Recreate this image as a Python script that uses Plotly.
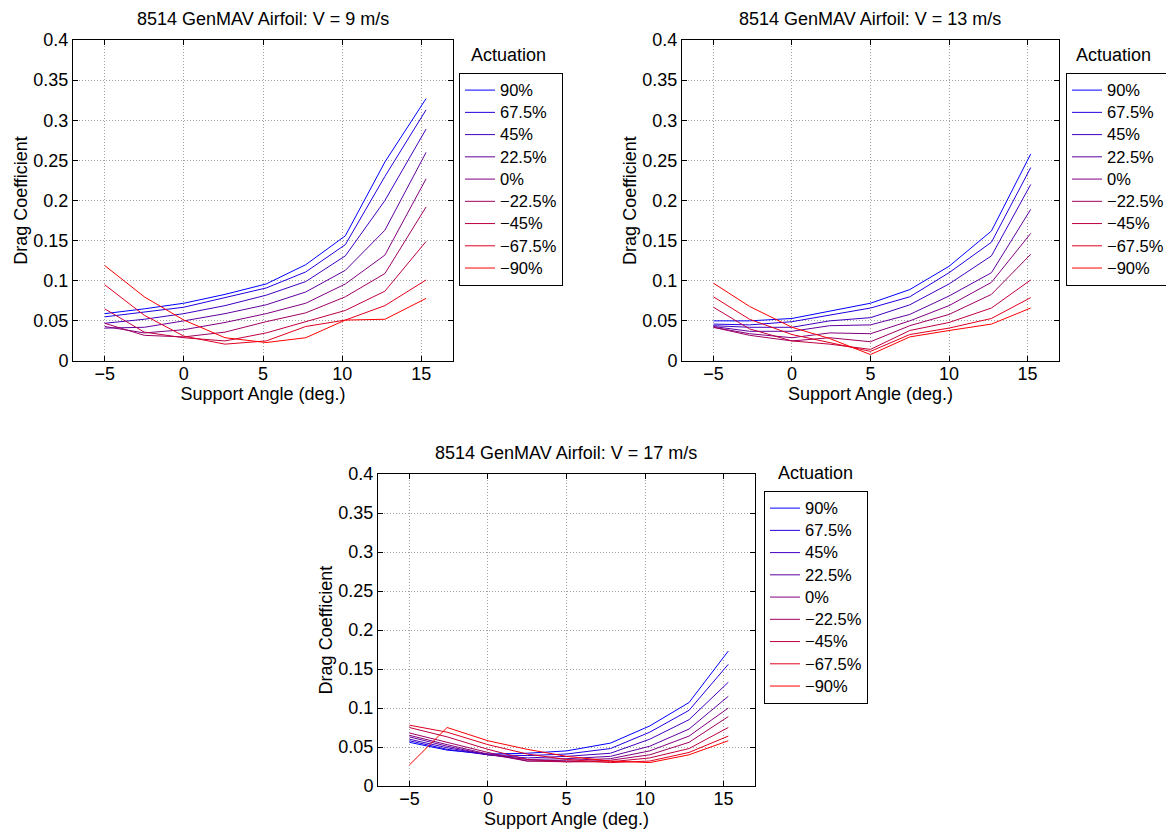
import plotly.graph_objects as go

# ---------------- data ----------------
actuation = ["90%", "67.5%", "45%", "22.5%", "0%", "−22.5%", "−45%", "−67.5%", "−90%"]
line_colors = ["rgb(0,0,255)", "rgb(32,0,223)", "rgb(64,0,191)", "rgb(96,0,159)",
               "rgb(128,0,128)", "rgb(159,0,96)", "rgb(191,0,64)", "rgb(223,0,32)",
               "rgb(255,0,0)"]

angle_9 = [-5, -2.5, 0, 2.6, 5.2, 7.7, 10.2, 12.7, 15.3]
cd_9 = [
    [0.059, 0.065, 0.072, 0.083, 0.096, 0.120, 0.156, 0.248, 0.327],
    [0.055, 0.061, 0.067, 0.079, 0.091, 0.111, 0.145, 0.230, 0.313],
    [0.047, 0.052, 0.059, 0.069, 0.082, 0.099, 0.131, 0.200, 0.289],
    [0.041, 0.042, 0.050, 0.059, 0.070, 0.086, 0.113, 0.163, 0.260],
    [0.043, 0.035, 0.039, 0.048, 0.059, 0.072, 0.096, 0.132, 0.227],
    [0.047, 0.032, 0.030, 0.036, 0.049, 0.060, 0.080, 0.109, 0.192],
    [0.065, 0.036, 0.029, 0.025, 0.035, 0.049, 0.063, 0.087, 0.149],
    [0.095, 0.057, 0.031, 0.021, 0.025, 0.043, 0.051, 0.069, 0.101],
    [0.119, 0.080, 0.051, 0.029, 0.023, 0.029, 0.051, 0.052, 0.078],
]

angle_13 = [-5, -2.7, 0, 2.4, 5, 7.5, 10, 12.7, 15.2]
cd_13 = [
    [0.050, 0.050, 0.053, 0.062, 0.072, 0.089, 0.118, 0.162, 0.258],
    [0.046, 0.045, 0.049, 0.057, 0.066, 0.080, 0.110, 0.148, 0.241],
    [0.044, 0.042, 0.042, 0.050, 0.054, 0.070, 0.096, 0.131, 0.220],
    [0.043, 0.037, 0.037, 0.044, 0.045, 0.058, 0.081, 0.110, 0.189],
    [0.042, 0.034, 0.029, 0.035, 0.034, 0.050, 0.069, 0.098, 0.159],
    [0.042, 0.032, 0.025, 0.029, 0.024, 0.044, 0.058, 0.083, 0.133],
    [0.067, 0.040, 0.025, 0.021, 0.0145, 0.038, 0.048, 0.066, 0.101],
    [0.080, 0.052, 0.033, 0.023, 0.012, 0.033, 0.041, 0.053, 0.079],
    [0.097, 0.068, 0.042, 0.028, 0.008, 0.030, 0.038, 0.046, 0.066],
]

angle_17 = [-5, -2.6, 0, 2.5, 5, 7.8, 10.3, 12.8, 15.3]
cd_17 = [
    [0.056, 0.046, 0.041, 0.042, 0.045, 0.055, 0.077, 0.107, 0.173],
    [0.058, 0.047, 0.040, 0.039, 0.041, 0.048, 0.069, 0.097, 0.156],
    [0.060, 0.049, 0.040, 0.036, 0.038, 0.042, 0.060, 0.085, 0.133],
    [0.063, 0.051, 0.040, 0.034, 0.035, 0.038, 0.051, 0.073, 0.115],
    [0.065, 0.053, 0.041, 0.032, 0.033, 0.035, 0.045, 0.064, 0.100],
    [0.068, 0.056, 0.043, 0.032, 0.031, 0.033, 0.040, 0.056, 0.089],
    [0.075, 0.063, 0.047, 0.034, 0.031, 0.031, 0.036, 0.048, 0.075],
    [0.078, 0.069, 0.053, 0.041, 0.034, 0.030, 0.032, 0.043, 0.064],
    [0.027, 0.075, 0.058, 0.047, 0.038, 0.032, 0.030, 0.040, 0.058],
]

titles = ["8514 GenMAV Airfoil: V = 9 m/s",
          "8514 GenMAV Airfoil: V = 13 m/s",
          "8514 GenMAV Airfoil: V = 17 m/s"]
x_ticks = [-5, 0, 5, 10, 15]
y_ticks = [0, 0.05, 0.1, 0.15, 0.2, 0.25, 0.3, 0.35, 0.4]

# ---------------- layout helpers (pixel geometry) ----------------
W, H = 1166, 830
FONT = "Liberation Sans, Arial, Helvetica, sans-serif"

panels = [
    dict(angle=angle_9, cd=cd_9, box=(73, 453, 40, 361), leg=(459, 73), act=(508, 55), tit=(263, 19)),
    dict(angle=angle_13, cd=cd_13, box=(682, 1059, 40, 361), leg=(1066, 73), act=(1113, 55), tit=(870, 19)),
    dict(angle=angle_17, cd=cd_17, box=(378, 755, 474, 786), leg=(764, 491), act=(815, 473), tit=(566, 453)),
]

fig = go.Figure()
annotations = []
layout = dict(
    width=W, height=H, margin=dict(l=0, r=0, t=0, b=0, autoexpand=False),
    paper_bgcolor="white", plot_bgcolor="white",
    font=dict(family=FONT, size=18, color="black"),
    showlegend=True,
)

for i, p in enumerate(panels):
    n = "" if i == 0 else str(i + 1)
    xa, ya = "x" + n, "y" + n
    legname = "legend" + n
    for k, lab in enumerate(actuation):
        fig.add_trace(go.Scatter(
            x=p["angle"], y=p["cd"][k], mode="lines",
            name="<span style='font-size:16.5px'>%s</span>" % lab,
            line=dict(color=line_colors[k], width=1),
            xaxis=xa, yaxis=ya, legend=legname, hoverinfo="skip",
        ))
    x0, x1, y0, y1 = p["box"]
    axis_common = dict(
        showline=True, linecolor="black", linewidth=1, mirror="ticks",
        ticks="inside", ticklen=5, tickcolor="black", tickwidth=1,
        showgrid=True, gridcolor="#a0a0a0", griddash="1px,2px", gridwidth=1,
        zeroline=False, tickfont=dict(size=18, family=FONT), automargin=False,
    )
    layout["xaxis" + n] = dict(
        axis_common, domain=[x0 / W, x1 / W], range=[-7, 17],
        tickvals=x_ticks, anchor=ya, ticklabelstandoff=-4,
        title=dict(text="Support Angle (deg.)", standoff=0, font=dict(size=18)),
    )
    layout["yaxis" + n] = dict(
        axis_common, domain=[1 - y1 / H, 1 - y0 / H], range=[0, 0.4],
        tickvals=y_ticks, anchor=xa,
        title=dict(text="Drag Coefficient", standoff=1, font=dict(size=18)),
    )
    lx, ly = p["leg"]
    layout[legname] = dict(
        x=lx / W, y=1 - ly / H, xanchor="left", yanchor="top",
        bgcolor="white", bordercolor="black", borderwidth=1,
        font=dict(size=14.8, family=FONT), itemwidth=30,
        tracegroupgap=0,
    )
    ax_, ay_ = p["act"]
    annotations.append(dict(text="Actuation", x=ax_ / W, y=1 - ay_ / H, xref="paper", yref="paper",
                            showarrow=False, xanchor="center", yanchor="middle", font=dict(size=18)))
    tx, ty = p["tit"]
    annotations.append(dict(text=titles[i], x=tx / W, y=1 - ty / H, xref="paper", yref="paper",
                            showarrow=False, xanchor="center", yanchor="middle", font=dict(size=18)))

layout["annotations"] = annotations
fig.update_layout(**layout)
fig.write_html("out.html")
